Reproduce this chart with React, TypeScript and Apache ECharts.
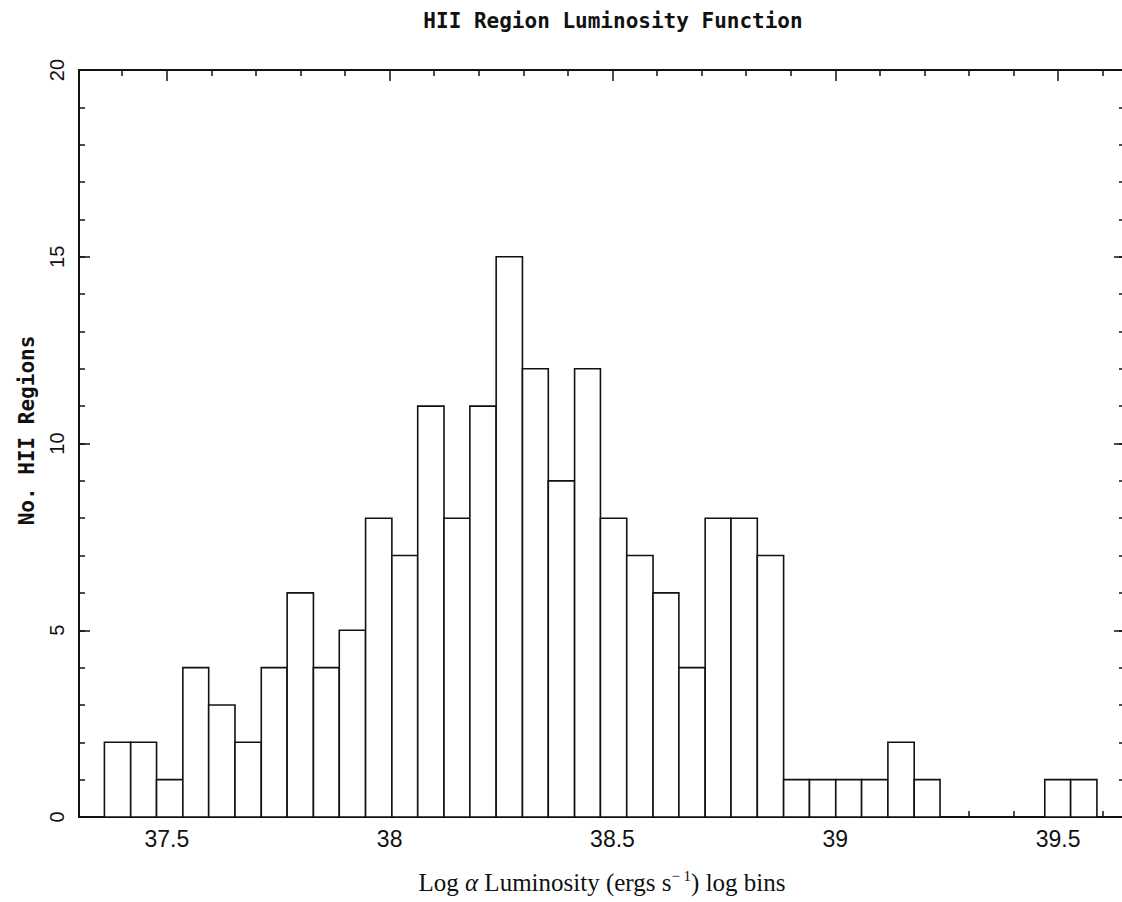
import React, { useEffect, useRef } from "react";
import * as echarts from "echarts";

// Bin lower edges (log L), bin upper edges and counts
const binStart = [
  37.360, 37.419, 37.477, 37.536, 37.594, 37.653, 37.712, 37.770, 37.829, 37.887,
  37.946, 38.005, 38.063, 38.122, 38.180, 38.239, 38.298, 38.356, 38.415, 38.473,
  38.532, 38.591, 38.649, 38.708, 38.766, 38.825, 38.884, 38.942, 39.001, 39.059,
  39.118, 39.177, 39.235, 39.294, 39.353, 39.411, 39.470, 39.528,
];
const binEnd = [
  37.419, 37.477, 37.536, 37.594, 37.653, 37.712, 37.770, 37.829, 37.887, 37.946,
  38.005, 38.063, 38.122, 38.180, 38.239, 38.298, 38.356, 38.415, 38.473, 38.532,
  38.591, 38.649, 38.708, 38.766, 38.825, 38.884, 38.942, 39.001, 39.059, 39.118,
  39.177, 39.235, 39.294, 39.353, 39.411, 39.470, 39.528, 39.587,
];
const counts = [
  2, 2, 1, 4, 3, 2, 4, 6, 4, 5,
  8, 7, 11, 8, 11, 15, 12, 9, 12, 8,
  7, 6, 4, 8, 8, 7, 1, 1, 1, 1,
  2, 1, 0, 0, 0, 0, 1, 1,
];

const xMajorTicks = [37.5, 38, 38.5, 39, 39.5];
const xMinorTicks = [
  37.4, 37.6, 37.7, 37.8, 37.9, 38.1, 38.2, 38.3, 38.4, 38.6, 38.7, 38.8, 38.9,
  39.1, 39.2, 39.3, 39.4, 39.6,
];
const xTickLabels = ["37.5", "38", "38.5", "39", "39.5"];

const X_MIN = 37.303;
const X_MAX = 39.65;
const Y_MIN = 0;
const Y_MAX = 20;

const titleText = "HII Region Luminosity Function";
const yTitle = "No. HII Regions";

export default function App() {
  const ref = useRef<HTMLDivElement>(null);

  useEffect(() => {
    if (!ref.current) return;
    const chart = echarts.init(ref.current, undefined, { renderer: "svg" });

    const data = binStart.map((s, i) => [s, binEnd[i], counts[i]]);

    const black = "#111";
    const common = { type: "value", min: X_MIN, max: X_MAX, splitLine: { show: false } };
    const noLine = { show: false, onZero: false };
    const frameLine = { show: true, onZero: false, lineStyle: { color: black, width: 2 } };
    const tickStyle = { color: black, width: 1.5 };

    const option: any = {
      animation: false,
      backgroundColor: "#fff",
      title: {
        text: titleText,
        left: 608,
        textAlign: "center",
        top: 5,
        textStyle: {
          fontFamily: "DejaVu Sans Mono",
          fontSize: 21,
          fontWeight: 600,
          color: black,
        },
      },
      grid: {
        left: 79,
        top: 70,
        right: 5,
        bottom: 85,
        containLabel: false,
        outerBoundsMode: "none",
      },
      xAxis: [
        {
          ...common,
          position: "bottom",
          axisLine: frameLine,
          axisTick: { show: true, inside: true, length: 11, customValues: xMajorTicks, lineStyle: tickStyle },
          axisLabel: {
            show: true,
            customValues: xMajorTicks,
            formatter: (v: number) => {
              const idx = xMajorTicks.findIndex((t) => Math.abs(t - v) < 1e-6);
              return idx >= 0 ? xTickLabels[idx] : "";
            },
            margin: 10,
            fontFamily: "Liberation Sans",
            fontSize: 23,
            color: black,
          },
          name: "{n|Log }{a|α}{n| Luminosity (ergs s}{s|− 1}{n|) log bins}",
          nameLocation: "middle",
          nameGap: 51,
          nameTextStyle: {
            rich: {
              n: { fontFamily: "Liberation Serif", fontSize: 25, color: black, lineHeight: 28 },
              a: { fontFamily: "Liberation Serif", fontStyle: "italic", fontSize: 25, color: black, lineHeight: 28 },
              s: { fontFamily: "Liberation Serif", fontSize: 15, color: black, lineHeight: 28, verticalAlign: "top", padding: [0, 0, 9, 0] },
            },
          },
        },
        {
          ...common,
          position: "bottom",
          axisLine: noLine,
          axisTick: { show: true, inside: true, length: 6, customValues: xMinorTicks, lineStyle: tickStyle },
          axisLabel: { show: false },
        },
        {
          ...common,
          position: "top",
          axisLine: frameLine,
          axisTick: { show: true, inside: true, length: 11, customValues: xMajorTicks, lineStyle: tickStyle },
          axisLabel: { show: false },
        },
        {
          ...common,
          position: "top",
          axisLine: noLine,
          axisTick: { show: true, inside: true, length: 6, customValues: xMinorTicks, lineStyle: tickStyle },
          axisLabel: { show: false },
        },
      ],
      yAxis: [
        {
          type: "value",
          min: Y_MIN,
          max: Y_MAX,
          interval: 5,
          position: "left",
          splitLine: { show: false },
          axisLine: frameLine,
          axisTick: { show: true, inside: true, length: 11, lineStyle: tickStyle },
          axisLabel: {
            show: true,
            rotate: 90,
            margin: 12,
            fontFamily: "Liberation Sans",
            fontSize: 20,
            color: black,
          },
          name: yTitle,
          nameLocation: "middle",
          nameRotate: 90,
          nameGap: 42,
          nameTextStyle: {
            fontFamily: "DejaVu Sans Mono",
            fontSize: 21,
            fontWeight: 600,
            color: black,
            padding: [0, 0, 0, 26],
          },
        },
        {
          type: "value",
          min: Y_MIN,
          max: Y_MAX,
          interval: 1,
          position: "left",
          splitLine: { show: false },
          axisLine: noLine,
          axisTick: { show: true, inside: true, length: 6, lineStyle: tickStyle },
          axisLabel: { show: false },
        },
        {
          type: "value",
          min: Y_MIN,
          max: Y_MAX,
          interval: 5,
          position: "right",
          splitLine: { show: false },
          axisLine: frameLine,
          axisTick: { show: true, inside: true, length: 11, lineStyle: tickStyle },
          axisLabel: { show: false },
        },
        {
          type: "value",
          min: Y_MIN,
          max: Y_MAX,
          interval: 1,
          position: "right",
          splitLine: { show: false },
          axisLine: noLine,
          axisTick: { show: true, inside: true, length: 6, lineStyle: tickStyle },
          axisLabel: { show: false },
        },
      ],
      series: [
        {
          type: "custom",
          xAxisIndex: 0,
          yAxisIndex: 0,
          data,
          encode: { x: [0, 1], y: 2 },
          renderItem: (params: any, api: any) => {
            const x0 = api.value(0);
            const x1 = api.value(1);
            const c = api.value(2);
            if (!c) return null;
            const p0 = api.coord([x0, c]);
            const p1 = api.coord([x1, 0]);
            return {
              type: "rect",
              shape: { x: p0[0], y: p0[1], width: p1[0] - p0[0], height: p1[1] - p0[1] },
              style: { fill: "#fff", stroke: black, lineWidth: 1.6 },
            };
          },
        },
      ],
    };

    chart.setOption(option);
    return () => chart.dispose();
  }, []);

  return (
    <div
      style={{
        position: "fixed",
        left: 0,
        top: 0,
        width: 1122,
        height: 902,
        overflow: "hidden",
        background: "#fff",
      }}
    >
      <div ref={ref} style={{ width: 1130, height: 902 }} />
    </div>
  );
}
